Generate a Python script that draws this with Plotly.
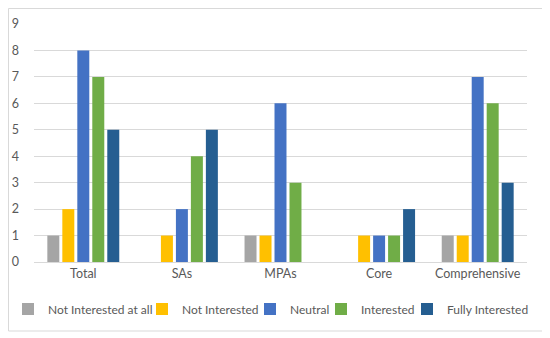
import plotly.graph_objects as go

categories = ["Total", "SAs", "MPAs", "Core", "Comprehensive"]
series_names = ["Not Interested at all", "Not Interested", "Neutral", "Interested", "Fully Interested"]
not_interested_at_all = [1, 0, 1, 0, 1]
not_interested = [2, 1, 1, 1, 1]
neutral = [8, 2, 6, 1, 7]
interested = [7, 4, 3, 1, 6]
fully_interested = [5, 5, 0, 2, 3]
values = [not_interested_at_all, not_interested, neutral, interested, fully_interested]
colors = ["#A5A5A5", "#FFC000", "#4472C4", "#70AD47", "#255E91"]
y_ticks = list(range(0, 10))

# page has an 8px body margin; work in page pixels and convert
OFF = 8
W, H = 550 - OFF, 338 - OFF
L, R, T, B = 34 - OFF, 23, 24 - OFF, 76
pw, ph = W - L - R, H - T - B
def px(xp):
    return (xp - OFF - L) / pw
def py(yp):
    return (H - B - (yp - OFF)) / ph

legend_text_x = [44, 182, 290, 361, 447]   # page x where legend text begins
legend_keys = ["legend", "legend2", "legend3", "legend4", "legend5"]

fig = go.Figure()
for name, vals, c, lk in zip(series_names, values, colors, legend_keys):
    fig.add_trace(go.Bar(x=categories, y=vals, name=name, legend=lk,
                         marker=dict(color=c, line=dict(width=0))))

fs = 12.5
legend_layout = {}
for lk, tx in zip(legend_keys, legend_text_x):
    legend_layout[lk] = dict(orientation="h", xref="container", yref="container",
                             x=(tx - OFF - 40) / W, xanchor="left",
                             y=1 - (309 - OFF) / H, yanchor="middle",
                             font=dict(size=12, color="#595959"), itemwidth=30,
                             bgcolor="rgba(0,0,0,0)", borderwidth=0)

fig.update_layout(
    width=W, height=H,
    margin=dict(l=L, r=R, t=T, b=B, autoexpand=False),
    paper_bgcolor="white", plot_bgcolor="white",
    barmode="group", bargap=0.24, bargroupgap=0.2,
    font=dict(family="Lato, Open Sans, sans-serif", size=fs, color="#595959"),
    showlegend=True,
    xaxis=dict(showgrid=False, showline=True, linecolor="#D9D9D9", linewidth=1, ticks="",
               tickfont=dict(size=fs, color="#595959")),
    yaxis=dict(range=[0, 9], tickvals=y_ticks, showgrid=True, gridcolor="#D9D9D9", gridwidth=1,
               zeroline=False, showline=False, ticks="", ticklabelstandoff=14,
               tickfont=dict(size=fs, color="#595959")),
    shapes=[dict(type="rect", xref="paper", yref="paper",
                 x0=px(8.5), x1=px(543), y0=py(331), y1=py(8.5),
                 line=dict(color="#D9D9D9", width=1), fillcolor="rgba(0,0,0,0)", layer="below")],
    **legend_layout,
)

fig.write_html("out.html")
